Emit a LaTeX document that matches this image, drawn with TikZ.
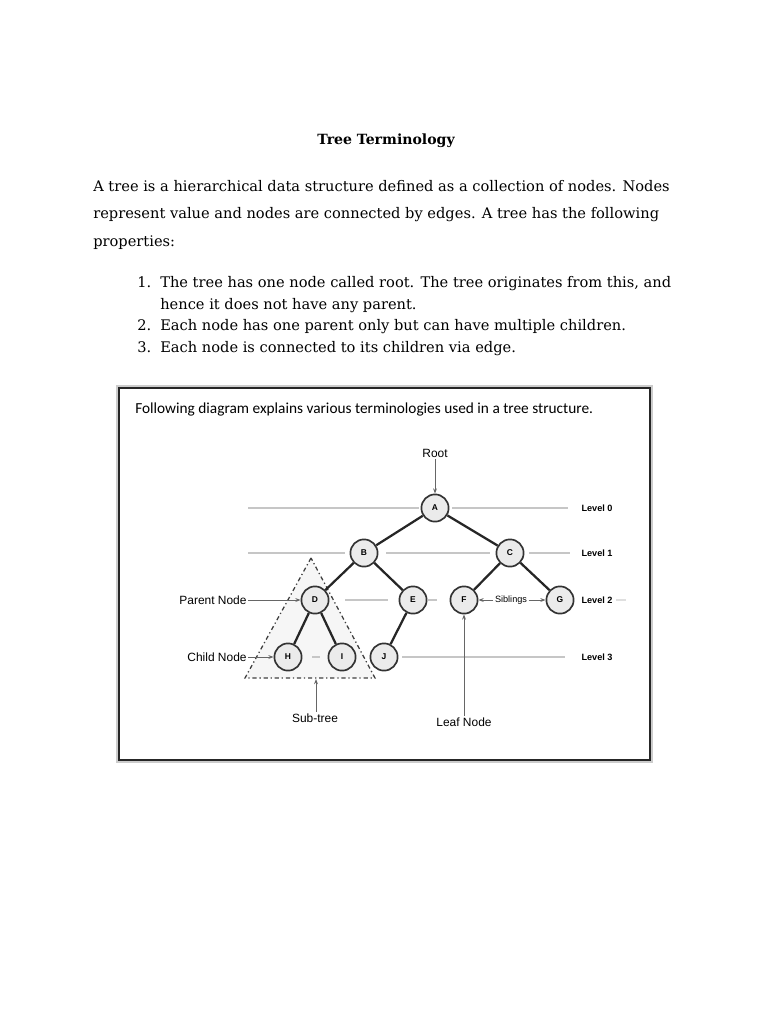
\documentclass[tikz,border=0pt]{standalone}
\usepackage{fontspec}
\setmainfont{DejaVu Serif}
\newfontfamily\diagfont{Liberation Sans}
\newfontfamily\capfont{Carlito}
\usetikzlibrary{arrows.meta,positioning}
\begin{document}
\begin{tikzpicture}[x=0.025cm, y=-0.025cm,
  txt/.style={anchor=west, inner sep=0pt, font=\fontsize{10.4}{12}\selectfont, text height=1.6ex, text depth=.4ex},
  tnode/.style={circle, draw=black!80, line width=1.2pt, fill=gray!16, minimum size=0.68cm, inner sep=0pt, font=\diagfont\bfseries\fontsize{6}{6}\selectfont},
  edge/.style={line width=1.6pt, black!85},
  lvl/.style={gray!45, line width=0.9pt},
  lbl/.style={font=\diagfont\fontsize{8.5}{10}\selectfont, inner sep=1pt},
  lvllbl/.style={font=\diagfont\bfseries\fontsize{6.5}{7}\selectfont, inner sep=1pt},
  arr/.style={-{Stealth[length=1.3mm]}, black!60, line width=0.6pt}
]
\useasboundingbox (0,0) rectangle (768,1024);
\node[font=\bfseries\fontsize{10}{12}\selectfont] (title) at (386,141) {Tree Terminology};
\node[txt] (p1) at (93,187) {A tree is a hierarchical data structure defined as a collection of nodes. Nodes};
\node[txt] (p2) at (93,214) {represent value and nodes are connected by edges. A tree has the following};
\node[txt] (p3) at (93,242) {properties:};
\node[txt] (n1) at (137,283) {1.};
\node[txt] (i1) at (160,283) {The tree has one node called root. The tree originates from this, and};
\node[txt] (i1b) at (160,305) {hence it does not have any parent.};
\node[txt] (n2) at (137,326) {2.};
\node[txt] (i2) at (160,326) {Each node has one parent only but can have multiple children.};
\node[txt] (n3) at (137,348) {3.};
\node[txt] (i3) at (160,348) {Each node is connected to its children via edge.};

\draw[gray!40, line width=1pt] (117,386) rectangle (652,762);
\draw[black!85, line width=1.8pt] (119,388) rectangle (650,760);
\node[anchor=west, inner sep=0pt, font=\capfont\fontsize{10.9}{12}\selectfont] (cap) at (135,409) {Following diagram explains various terminologies used in a tree structure.};

\fill[gray!7] (311,558) -- (245,678) -- (375,678) -- cycle;
\draw[black!75, line width=0.9pt, dash dot] (311,558) -- (245,678) -- (375,678) -- cycle;

\draw[lvl] (248,508) -- (419,508);
\draw[lvl] (452,508) -- (568,508);
\draw[lvl] (248,553) -- (345,553);
\draw[lvl] (386,553) -- (490,553);
\draw[lvl] (529,553) -- (570,553);
\draw[lvl] (345,600) -- (388,600);
\draw[lvl] (428,600) -- (437,600);
\draw[gray!25, line width=0.9pt] (616,600) -- (626,600);
\draw[lvl] (312,657) -- (320,657);
\draw[lvl] (402,657) -- (565,657);

\node[tnode] (A) at (435,508) {A};
\node[tnode] (B) at (364,553) {B};
\node[tnode] (C) at (510,553) {C};
\node[tnode] (D) at (315,600) {D};
\node[tnode] (E) at (413,600) {E};
\node[tnode] (F) at (464,600) {F};
\node[tnode] (G) at (560,600) {G};
\node[tnode] (H) at (288,657) {H};
\node[tnode] (I) at (342,657) {I};
\node[tnode] (J) at (384,657) {J};
\draw[edge] (A) -- (B);
\draw[edge] (A) -- (C);
\draw[edge] (B) -- (D);
\draw[edge] (B) -- (E);
\draw[edge] (C) -- (F);
\draw[edge] (C) -- (G);
\draw[edge] (D) -- (H);
\draw[edge] (D) -- (I);
\draw[edge] (E) -- (J);

\node[lvllbl] (l0) at (597,508) {Level 0};
\node[lvllbl] (l1) at (597,553) {Level 1};
\node[lvllbl] (l2) at (597,600) {Level 2};
\node[lvllbl] (l3) at (597,657) {Level 3};

\node[lbl] (root) at (435,453) {Root};
\node[lbl] (parent) at (213,600) {Parent Node};
\node[lbl] (child) at (217,657) {Child Node};
\node[lvllbl, font=\diagfont\fontsize{6.5}{7}\selectfont] (sib) at (511,600) {Siblings};
\node[lbl] (sub) at (315,718) {Sub-tree};
\node[lbl] (leaf) at (464,722) {Leaf Node};
\coordinate (tb) at (316,679);

\draw[arr] (root) -- (A);
\draw[arr] (parent) -- (D);
\draw[arr] (child) -- (H);
\draw[arr] (sib) -- (F);
\draw[arr] (sib) -- (G);
\draw[arr] (sub.north -| tb) -- (tb);
\draw[arr] (leaf) -- (F);
\end{tikzpicture}
\end{document}
